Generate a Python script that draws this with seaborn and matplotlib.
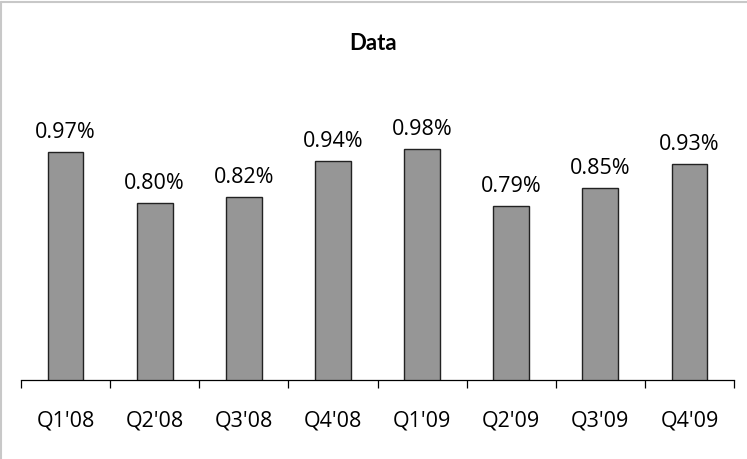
import matplotlib
matplotlib.use("Agg")
import matplotlib.pyplot as plt
import seaborn as sns
import pandas as pd
from matplotlib.lines import Line2D

categories = ["Q1'08", "Q2'08", "Q3'08", "Q4'08", "Q1'09", "Q2'09", "Q3'09", "Q4'09"]
values = [0.97, 0.80, 0.82, 0.94, 0.98, 0.79, 0.85, 0.93]
labels = ["0.97%", "0.80%", "0.82%", "0.94%", "0.98%", "0.79%", "0.85%", "0.93%"]

df = pd.DataFrame({"quarter": categories, "value": values})

sns.set_style("white")
plt.rcParams['font.family'] = ['Open Sans', 'DejaVu Sans']
plt.rcParams['text.color'] = 'black'
plt.rcParams['xtick.color'] = 'black'

fig = plt.figure(figsize=(7.47, 4.6), dpi=100)
ax = fig.add_axes([21/747, 1-381/460, (734-21)/747, (381-100)/460])

sns.barplot(data=df, x="quarter", y="value", color="#969696", width=0.4,
            edgecolor="#222222", linewidth=1.0, saturation=1, ax=ax)

ax.set_ylim(0.21, 0.21 + 281/300)
ax.set_xlim(-0.5, len(categories) - 0.5)

for i, (v, lab) in enumerate(zip(values, labels)):
    ax.annotate(lab, (i, v), xytext=(0, 10.5), textcoords="offset points",
                ha="center", va="baseline", fontsize=15.5, color="black")

for s in ["top", "right", "left"]:
    ax.spines[s].set_visible(False)
ax.spines["bottom"].set_color("black")
ax.spines["bottom"].set_linewidth(0.9)
ax.set_yticks([])
ax.set_xticks([i - 0.5 for i in range(len(categories) + 1)], minor=True)
ax.tick_params(axis="x", which="minor", direction="out", length=5.5, width=0.9, color="black", bottom=True)
ax.tick_params(axis="x", which="major", length=0, labelsize=15.5, pad=21, labelcolor="black")
ax.set_xlabel("")
ax.set_ylabel("")

fig.text(0.5, 1 - 43/460, "Data", ha="center", va="center", fontsize=16,
         fontweight="bold", color="black", family=["Lato", "DejaVu Sans"])

fig.add_artist(Line2D([1.5/747, 1], [1 - 3/460, 1 - 3/460], color="#c8c8c8", lw=1.5, transform=fig.transFigure))
fig.add_artist(Line2D([1.5/747, 1.5/747], [0, 1 - 3/460], color="#c8c8c8", lw=1.5, transform=fig.transFigure))

fig.savefig("out.png", dpi=100)
